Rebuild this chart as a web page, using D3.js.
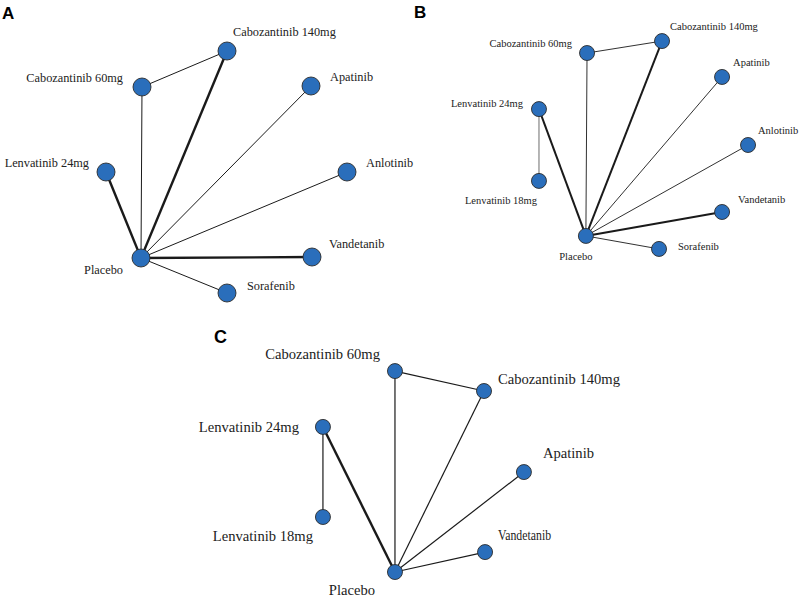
<!DOCTYPE html>
<html>
<head>
<meta charset="utf-8">
<script src="https://cdn.jsdelivr.net/npm/d3@7"></script>
<style>
  body { margin: 0; background: #fff; }
  svg { display: block; }
</style>
</head>
<body>
<svg id="chart" width="800" height="598"></svg>
<script>
// node names per panel
const namesA = ['Cabozantinib 140mg', 'Cabozantinib 60mg', 'Apatinib', 'Lenvatinib 24mg',
  'Anlotinib', 'Placebo', 'Vandetanib', 'Sorafenib'];
const namesB = ['Cabozantinib 140mg', 'Cabozantinib 60mg', 'Apatinib', 'Lenvatinib 24mg',
  'Anlotinib', 'Lenvatinib 18mg', 'Vandetanib', 'Placebo', 'Sorafenib'];
const namesC = ['Cabozantinib 60mg', 'Cabozantinib 140mg', 'Lenvatinib 24mg', 'Apatinib',
  'Lenvatinib 18mg', 'Vandetanib', 'Placebo'];

// network layout coordinates (0-100 units), same order as names
const layoutA = [[50.8, 0.4], [16.8, 14.8], [84.4, 14.4], [2.4, 48.8],
  [98.8, 48.8], [16.4, 83.2], [84.8, 82.8], [50.8, 97.2]];
const layoutB = [[57.4, 0.5], [24.8, 6.2], [83.5, 17.6], [3.9, 32.9],
  [94.8, 50], [3.9, 67.1], [83.5, 81.9], [24.3, 93.3], [56.1, 99.5]];
const layoutC = [[35.7, 0.5], [78.1, 10], [1.4, 27.1], [97.1, 48.6],
  [1.4, 70], [78.6, 86.7], [35.7, 96.2]];

// comparisons: [from, to, number of studies]
const edgesA = [['Placebo', 'Cabozantinib 60mg', 1], ['Placebo', 'Cabozantinib 140mg', 2],
  ['Cabozantinib 60mg', 'Cabozantinib 140mg', 1], ['Placebo', 'Lenvatinib 24mg', 2],
  ['Placebo', 'Apatinib', 1], ['Placebo', 'Anlotinib', 1],
  ['Placebo', 'Vandetanib', 2], ['Placebo', 'Sorafenib', 1]];
const edgesB = [['Placebo', 'Cabozantinib 60mg', 1], ['Placebo', 'Cabozantinib 140mg', 2],
  ['Cabozantinib 60mg', 'Cabozantinib 140mg', 1], ['Placebo', 'Lenvatinib 24mg', 2],
  ['Lenvatinib 24mg', 'Lenvatinib 18mg', 1.5], ['Placebo', 'Apatinib', 1],
  ['Placebo', 'Anlotinib', 1], ['Placebo', 'Vandetanib', 2], ['Placebo', 'Sorafenib', 1]];
const edgesC = [['Placebo', 'Cabozantinib 60mg', 1], ['Placebo', 'Cabozantinib 140mg', 1],
  ['Cabozantinib 60mg', 'Cabozantinib 140mg', 1], ['Placebo', 'Lenvatinib 24mg', 2],
  ['Lenvatinib 24mg', 'Lenvatinib 18mg', 1], ['Placebo', 'Apatinib', 1],
  ['Placebo', 'Vandetanib', 1]];

// label placement: [dx, dy, anchor]
const labelsA = [[6, -19, 'start'], [-19, -9, 'end'], [19, -9, 'start'], [-17, -9, 'end'],
  [19, -9, 'start'], [-18, 12, 'end'], [17, -13, 'start'], [20, -7, 'start']];
const labelsB = [[8, -15, 'start'], [-15, -10, 'end'], [11, -15, 'start'], [-16, -6, 'end'],
  [10, -15, 'start'], [-2, 19, 'end'], [16, -13, 'start'], [-10, 20, 'middle'], [19, -3, 'start']];
const labelsC = [[-15, -17, 'end'], [14, -12, 'start'], [-24, 0, 'end'], [19, -19, 'start'],
  [-10, 19, 'end'], [13, -17, 'start'], [-43, 18, 'middle']];

const panels = [
  { letter: 'A', names: namesA, layout: layoutA, edges: edgesA, labels: labelsA,
    xr: [100, 350], yr: [50, 300], r: 9, font: 12.3, thin: 1, thick: 2.4, letterAt: [2, 19], letterSize: 17 },
  { letter: 'B', names: namesB, layout: layoutB, edges: edgesB, labels: labelsB,
    xr: [530, 760], yr: [40, 250], r: 7.5, font: 10.5, thin: 0.9, thick: 2, letterAt: [414, 18], letterSize: 17 },
  { letter: 'C', names: namesC, layout: layoutC, edges: edgesC, labels: labelsC,
    xr: [320, 530], yr: [370, 580], r: 7.5, font: 14.6, thin: 1.2, thick: 2.4, letterAt: [214, 343], letterSize: 18 },
];

const svg = d3.select('#chart');

panels.forEach(function (p) {
  const x = d3.scaleLinear().domain([0, 100]).range(p.xr);
  const y = d3.scaleLinear().domain([0, 100]).range(p.yr);
  const w = d3.scaleLinear().domain([1, 2]).range([p.thin, p.thick]);

  const nodes = p.names.map((name, i) => ({
    name: name,
    x: x(p.layout[i][0]),
    y: y(p.layout[i][1]),
    label: p.labels[i],
  }));
  const byName = new Map(nodes.map(n => [n.name, n]));

  const g = svg.append('g').attr('class', 'panel');

  g.append('text')
    .attr('x', p.letterAt[0])
    .attr('y', p.letterAt[1])
    .attr('font-family', 'Liberation Sans, Arial, sans-serif')
    .attr('font-weight', 'bold')
    .attr('font-size', p.letterSize)
    .text(p.letter);

  g.append('g')
    .selectAll('line')
    .data(p.edges)
    .join('line')
    .attr('x1', d => byName.get(d[0]).x)
    .attr('y1', d => byName.get(d[0]).y)
    .attr('x2', d => byName.get(d[1]).x)
    .attr('y2', d => byName.get(d[1]).y)
    .attr('stroke', d => (d[2] === 1.5 ? '#9a9a9a' : '#1a1a1a'))
    .attr('stroke-width', d => w(d[2]));

  g.append('g')
    .selectAll('circle')
    .data(nodes)
    .join('circle')
    .attr('cx', d => d.x)
    .attr('cy', d => d.y)
    .attr('r', p.r)
    .attr('fill', '#2a6ebb')
    .attr('stroke', '#2b2b2b')
    .attr('stroke-width', 0.9);

  const txt = g.append('g')
    .selectAll('text')
    .data(nodes)
    .join('text')
    .attr('x', d => d.x + d.label[0])
    .attr('y', d => d.y + d.label[1])
    .attr('dy', '0.35em')
    .attr('text-anchor', d => d.label[2])
    .attr('font-family', 'Liberation Serif, Times New Roman, serif')
    .attr('font-size', p.font)
    .attr('fill', '#222')
    .text(d => d.name);

  // panel C squeezes the Vandetanib label
  if (p.letter === 'C') {
    txt.filter(d => d.name === 'Vandetanib')
      .attr('textLength', 53)
      .attr('lengthAdjust', 'spacingAndGlyphs');
  }
});
</script>
</body>
</html>
